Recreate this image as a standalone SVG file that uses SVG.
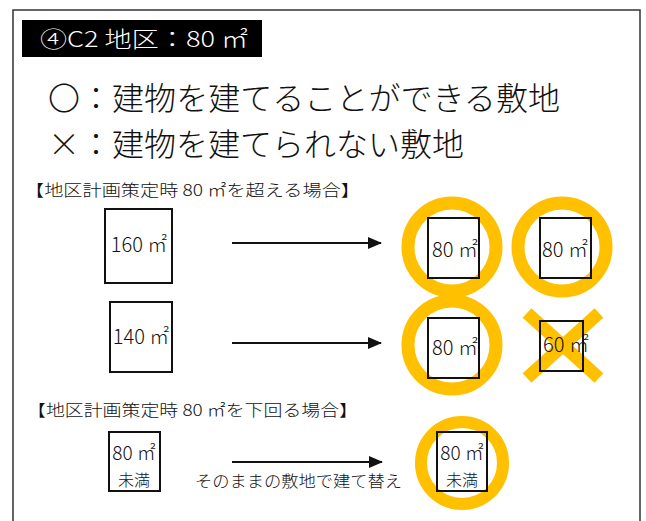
<svg xmlns="http://www.w3.org/2000/svg" width="646" height="521" viewBox="0 0 646 521">
<defs>
<style>
text{font-family:"Noto Sans CJK JP","Noto Sans",sans-serif;fill:#111;font-weight:300}
.box{fill:#fff;stroke:#111;stroke-width:2}
.ring{fill:none;stroke:#FFC000;stroke-width:13}
.cross{stroke:#FFC000;stroke-width:13}
.arrow{stroke:#111;stroke-width:2.2;fill:none}
.lab{font-size:20px;text-anchor:middle}
.lab2{font-size:16px;text-anchor:middle}
.labs{font-size:19px;text-anchor:middle}
</style>
<marker id="ah" markerWidth="14" markerHeight="12" refX="13" refY="6" orient="auto" markerUnits="userSpaceOnUse" viewBox="0 0 14 12">
<path d="M0,0 L14,6 L0,12 z" fill="#111"/>
</marker>
</defs>
<rect width="646" height="521" fill="#fff"/>
<rect x="13" y="10" width="627" height="530" fill="none" stroke="#333" stroke-width="1.5"/>
<g id="title">
<rect x="22" y="20" width="240" height="37" fill="#000"/>
<text x="40" y="47" font-size="22" style="fill:#fff" textLength="208" lengthAdjust="spacingAndGlyphs">④C2 地区：80 ㎡</text>
</g>
<g id="legend">
<text x="48" y="110" font-size="32" textLength="512" lengthAdjust="spacingAndGlyphs">〇：建物を建てることができる敷地</text>
<text x="48" y="156" font-size="32" textLength="416" lengthAdjust="spacingAndGlyphs">×：建物を建てられない敷地</text>
</g>
<g id="heading1"><text x="25" y="196" font-size="16" textLength="335" lengthAdjust="spacingAndGlyphs">【地区計画策定時 80 ㎡を超える場合】</text></g>
<g id="heading2"><text x="27" y="416" font-size="16" textLength="331" lengthAdjust="spacingAndGlyphs">【地区計画策定時 80 ㎡を下回る場合】</text></g>
<g id="connectors">
<line class="arrow" x1="232" y1="243" x2="381" y2="243" marker-end="url(#ah)"/>
<line class="arrow" x1="232" y1="343" x2="381" y2="343" marker-end="url(#ah)"/>
<line class="arrow" x1="232" y1="462" x2="382" y2="462" marker-end="url(#ah)"/>
<text x="195" y="487" font-size="16" textLength="207" lengthAdjust="spacingAndGlyphs">そのままの敷地で建て替え</text>
</g>
<g id="lot160">
<rect class="box" x="105" y="209" width="67" height="74"/>
<text class="lab" x="139" y="252">160 ㎡</text>
</g>
<g id="lot140">
<rect class="box" x="110" y="302" width="62" height="70"/>
<text class="lab" x="141" y="344">140 ㎡</text>
</g>
<g id="ok1">
<circle class="ring" cx="452" cy="247" r="44"/>
<rect class="box" x="428" y="218" width="51" height="60" style="fill:none"/>
<text class="lab" x="455" y="257">80 ㎡</text>
</g>
<g id="ok2">
<circle class="ring" cx="562" cy="247" r="44"/>
<rect class="box" x="540" y="218" width="51" height="60" style="fill:none"/>
<text class="lab" x="565" y="257">80 ㎡</text>
</g>
<g id="ok3">
<circle class="ring" cx="452" cy="345" r="44"/>
<rect class="box" x="428" y="318" width="51" height="60" style="fill:none"/>
<text class="lab" x="455" y="355">80 ㎡</text>
</g>
<g id="ng1">
<line class="cross" x1="527" y1="313" x2="599" y2="378"/>
<line class="cross" x1="599" y1="313" x2="527" y2="378"/>
<rect class="box" x="540" y="321" width="43" height="50" style="fill:none"/>
<text class="lab" x="566" y="352">60 ㎡</text>
</g>
<g id="lotsmall">
<rect class="box" x="109" y="432" width="51" height="59"/>
<text class="labs" x="134" y="460">80 ㎡</text>
<text class="lab2" x="134" y="486">未満</text>
</g>
<g id="oksmall">
<circle class="ring" cx="462" cy="463" r="41" style="stroke-width:12"/>
<rect class="box" x="437" y="432" width="50" height="59" style="fill:none"/>
<text class="labs" x="462" y="460">80 ㎡</text>
<text class="lab2" x="462" y="486">未満</text>
</g>
</svg>
